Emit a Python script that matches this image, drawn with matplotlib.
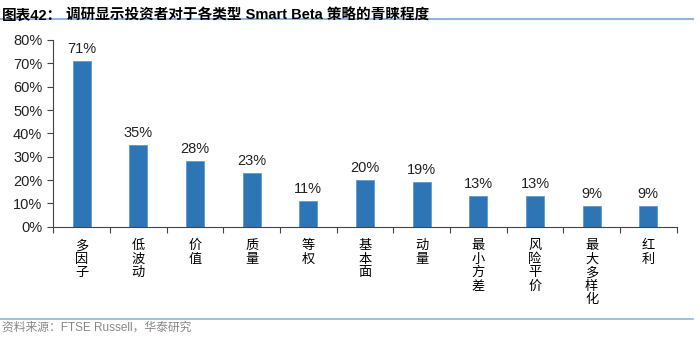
import matplotlib.pyplot as plt
import numpy as np
from matplotlib.lines import Line2D

plt.rcParams['font.family'] = ['Liberation Sans', 'Noto Sans CJK SC', 'DejaVu Sans']

# 数据
categories = ['多因子', '低波动', '价值', '质量', '等权', '基本面', '动量', '最小方差', '风险平价', '最大多样化', '红利']
values = [71, 35, 28, 23, 11, 20, 19, 13, 13, 9, 9]
y_ticks = [0, 10, 20, 30, 40, 50, 60, 70, 80]

bar_color = '#2E75B6'
line_color = '#8EB4E3'

fig = plt.figure(figsize=(7, 3.38), dpi=100)
ax = fig.add_axes([0.0762, 0.3293, 0.8904, 0.5524])

x = np.arange(len(categories))
ax.bar(x, values, width=0.32, color=bar_color, edgecolor='#5B9BD5', linewidth=0.6, zorder=2)
for xi, v in zip(x, values):
    ax.text(xi, v + 2.2, f'{v}%', ha='center', va='bottom', fontsize=10.5, color='#222222')

ax.set_xlim(-0.5, len(categories) - 0.5)
ax.set_ylim(0, 80)
ax.set_yticks(y_ticks)
ax.set_yticklabels([f'{t}%' for t in y_ticks], fontsize=10.5, color='#222222')

# x轴刻度放在类别边界，标签竖排
ax.set_xticks(np.arange(len(categories) + 1) - 0.5)
ax.set_xticklabels([])
ax.set_xticks(x, minor=True)
ax.set_xticklabels(['\n'.join(c) for c in categories], minor=True, fontsize=9.5,
                   va='top', linespacing=1.05, family=['Noto Sans CJK SC'])
ax.tick_params(axis='x', which='minor', length=0, pad=9)
ax.tick_params(axis='x', which='major', length=4, direction='out', color='#444444')
ax.tick_params(axis='y', length=4, direction='out', color='#444444', pad=4)

for s in ['top', 'right']:
    ax.spines[s].set_visible(False)
ax.spines['left'].set_color('#444444')
ax.spines['bottom'].set_color('#444444')

# 标题与来源
fig.text(0.003, 0.975, '图表42：', fontsize=10.5, fontweight='bold', va='top', ha='left',
         family=['Liberation Sans', 'Noto Sans CJK SC'])
fig.text(0.095, 0.975, '调研显示投资者对于各类型 Smart Beta 策略的青睐程度', fontsize=10.5,
         fontweight='bold', va='top', ha='left', family=['Liberation Sans', 'Noto Sans CJK SC'])
fig.add_artist(Line2D([0.0, 0.99], [1 - 18.5 / 338] * 2, color=line_color, linewidth=1.5,
                      transform=fig.transFigure))
fig.add_artist(Line2D([0.0, 0.99], [1 - 319 / 338] * 2, color=line_color, linewidth=1.2,
                      transform=fig.transFigure))
fig.text(0.003, 1 - 328 / 338, '资料来源：FTSE Russell，华泰研究', fontsize=8.5, color='#888888',
         va='center', ha='left', family=['Liberation Sans', 'Noto Sans CJK SC'])

fig.savefig('out.png', dpi=100)
